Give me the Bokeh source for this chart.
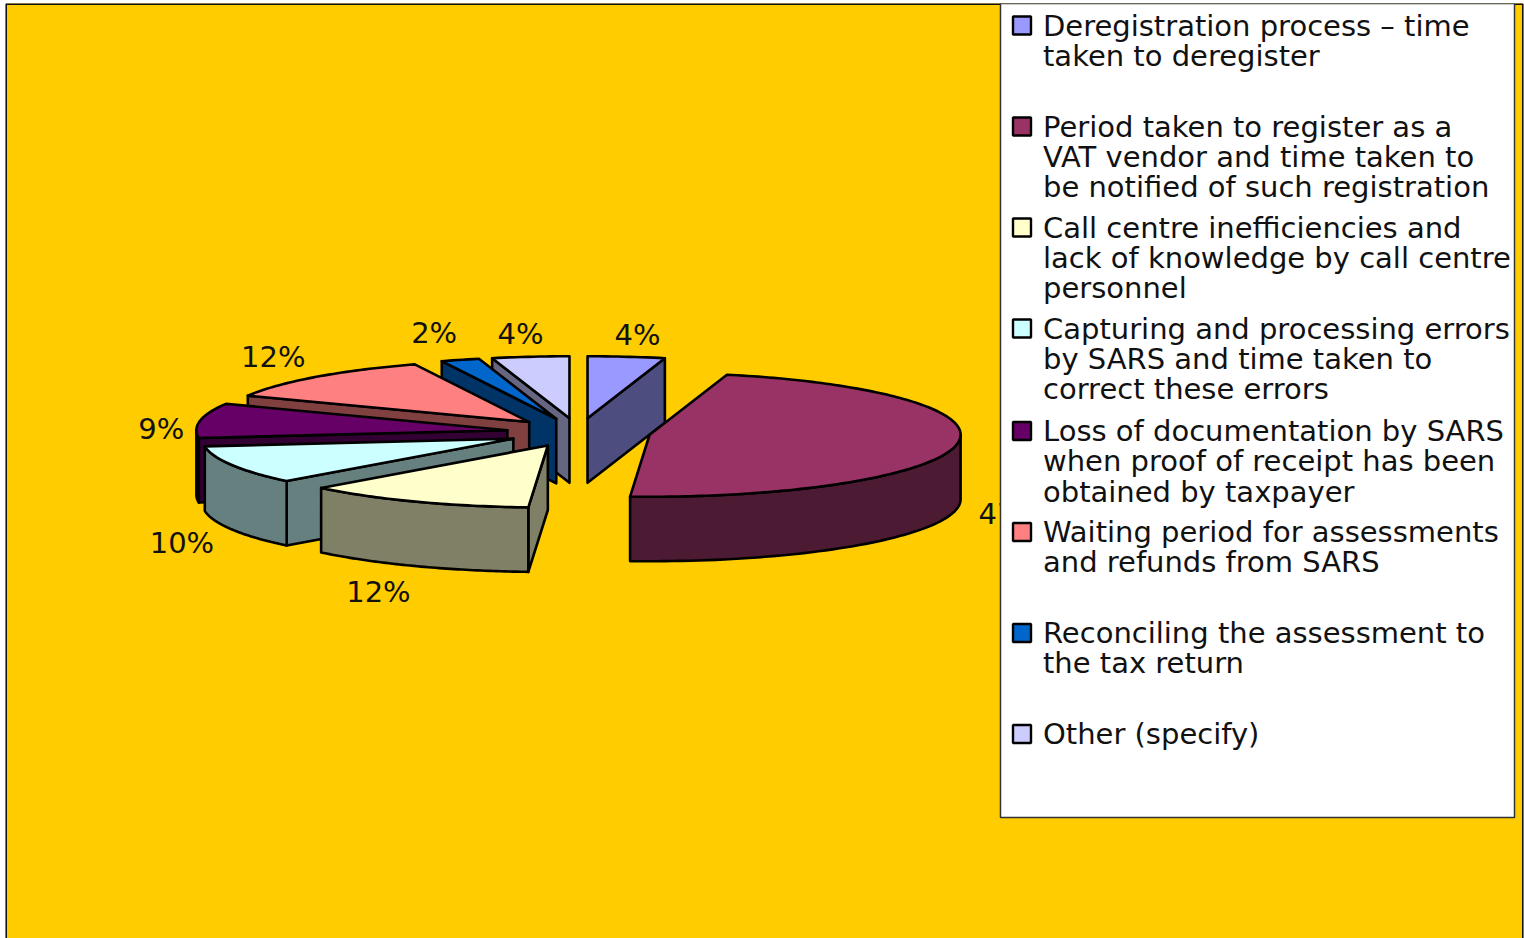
import numpy as np
from bokeh.plotting import figure
from bokeh.embed import file_html
from bokeh.resources import INLINE
from bokeh.core.properties import value

# ---- data ----
categories = [
    "Deregistration process – time taken to deregister",
    "Period taken to register as a VAT vendor and time taken to be notified of such registration",
    "Call centre inefficiencies and lack of knowledge by call centre personnel",
    "Capturing and processing errors by SARS and time taken to correct these errors",
    "Loss of documentation by SARS when proof of receipt has been obtained by taxpayer",
    "Waiting period for assessments and refunds from SARS",
    "Reconciling the assessment to the tax return",
    "Other (specify)",
]
legend_lines = [
    ["Deregistration process – time", "taken to deregister"],
    ["Period taken to register as a", "VAT vendor and time taken to", "be notified of such registration"],
    ["Call centre inefficiencies and", "lack of knowledge by call centre", "personnel"],
    ["Capturing and processing errors", "by SARS and time taken to", "correct these errors"],
    ["Loss of documentation by SARS", "when proof of receipt has been", "obtained by taxpayer"],
    ["Waiting period for assessments", "and refunds from SARS"],
    ["Reconciling the assessment to", "the tax return"],
    ["Other (specify)"],
]
shares = [4, 47, 12, 10, 9, 12, 2, 4]
top_colors = ["#9999FF", "#993366", "#FFFFCC", "#CCFFFF", "#660066", "#FF8080", "#0066CC", "#CCCCFF"]
side_colors = ["#4D4D80", "#4D1A33", "#808066", "#668080", "#330033", "#804040", "#003366", "#666680"]

# ---- styling / geometry ----
BG = "#FFCC00"
FONT = "DejaVu Sans"
FONT_SIZE = "29px"
CX, CY = 578.0, 432.0      # pie centre
RX, RY = 311.0, 62.0       # ellipse radii
DEPTH = 64.5               # wall height
EXPLODE = 72.0             # explosion, in the pie's plane
label_offsets = [(11, -22), (54, 70), (-37, 90), (-50, 78), (-39, 8), (-43, -20), (-26, -27), (-10, -23)]

p = figure(width=1524, height=938, x_range=(5, 1523), y_range=(938, 3),
           output_backend="svg", toolbar_location=None,
           min_border_left=5, min_border_top=3, min_border_right=1, min_border_bottom=0)
p.axis.visible = False
p.grid.visible = False
p.background_fill_color = BG
p.border_fill_color = "white"
p.outline_line_color = None
# chart frame: top, left and right only, the bottom runs off the page
p.line([5.5, 5.5, 1522.5, 1522.5], [938, 3.5, 3.5, 938], line_color="#111111", line_width=2)


def arc(cx, cy, a0, a1, n):
    t = np.radians(np.linspace(a0, a1, n))
    return cx + RX * np.sin(t), cy - RY * np.cos(t)


def poly(xs, ys, color):
    p.patch(list(xs), list(ys), fill_color=color, line_color="black", line_width=2.6,
            line_join="round")


edges = np.cumsum([0] + shares) * 3.6
mids = (edges[:-1] + edges[1:]) / 2
k = RY / RX
centres = [(CX + EXPLODE * np.sin(np.radians(m)), CY - EXPLODE * k * np.cos(np.radians(m))) for m in mids]

# back-to-front
order = sorted(range(len(shares)), key=lambda i: -np.cos(np.radians(mids[i])))
for i in order:
    a0, a1 = edges[i], edges[i + 1]
    cx, cy = centres[i]
    # radial walls that face the viewer
    for a, visible in ((a0, np.sin(np.radians(a0)) < -1e-6), (a1, np.sin(np.radians(a1)) > 1e-6)):
        if visible:
            ox, oy = arc(cx, cy, a, a, 1)
            poly([cx, ox[0], ox[0], cx], [cy, oy[0], oy[0] + DEPTH, cy + DEPTH], side_colors[i])
    # outer wall: the part of the arc facing front (90..270 degrees)
    w0, w1 = max(a0, 90), min(a1, 270)
    if w1 > w0:
        ox, oy = arc(cx, cy, w0, w1, 60)
        poly(np.r_[ox, ox[::-1]], np.r_[oy, oy[::-1] + DEPTH], side_colors[i])
    # top face
    ox, oy = arc(cx, cy, a0, a1, max(8, int(a1 - a0)))
    poly(np.r_[cx, ox], np.r_[cy, oy], top_colors[i])

# data labels
lx, ly, lt = [], [], []
for i, s in enumerate(shares):
    cx, cy = centres[i]
    ox, oy = arc(cx, cy, mids[i], mids[i], 1)
    lx.append(ox[0] + label_offsets[i][0])
    ly.append(oy[0] + label_offsets[i][1])
    lt.append(f"{s}%")
p.text(lx, ly, text=lt, text_font=value(FONT), text_font_size=FONT_SIZE, text_color="#111111",
       text_align="center", text_baseline="middle")

# legend box, on top of the pie
p.quad(left=[1000], right=[1514], top=[3], bottom=[817], fill_color="white",
       line_color="#333333", line_width=1.5)
STEP = 101.0
TOP = 25.0
PITCH = 30.4
mx, my = [], []
tx, ty, tt = [], [], []
for i, lines in enumerate(legend_lines):
    y0 = TOP + i * STEP + (1.5 if i >= 4 else 0)
    mx.append(1021.5)
    my.append(y0)
    for j, line in enumerate(lines):
        tx.append(1042.5)
        ty.append(y0 + j * PITCH)
        tt.append(line)
p.scatter(mx, my, marker="square", size=18, fill_color=top_colors, line_color="black", line_width=2.4)
p.text(tx, ty, text=tt, text_font=value(FONT), text_font_size=FONT_SIZE, text_color="#111111",
       text_align="left", text_baseline="middle")

open("out.html", "w").write(file_html(p, INLINE))
